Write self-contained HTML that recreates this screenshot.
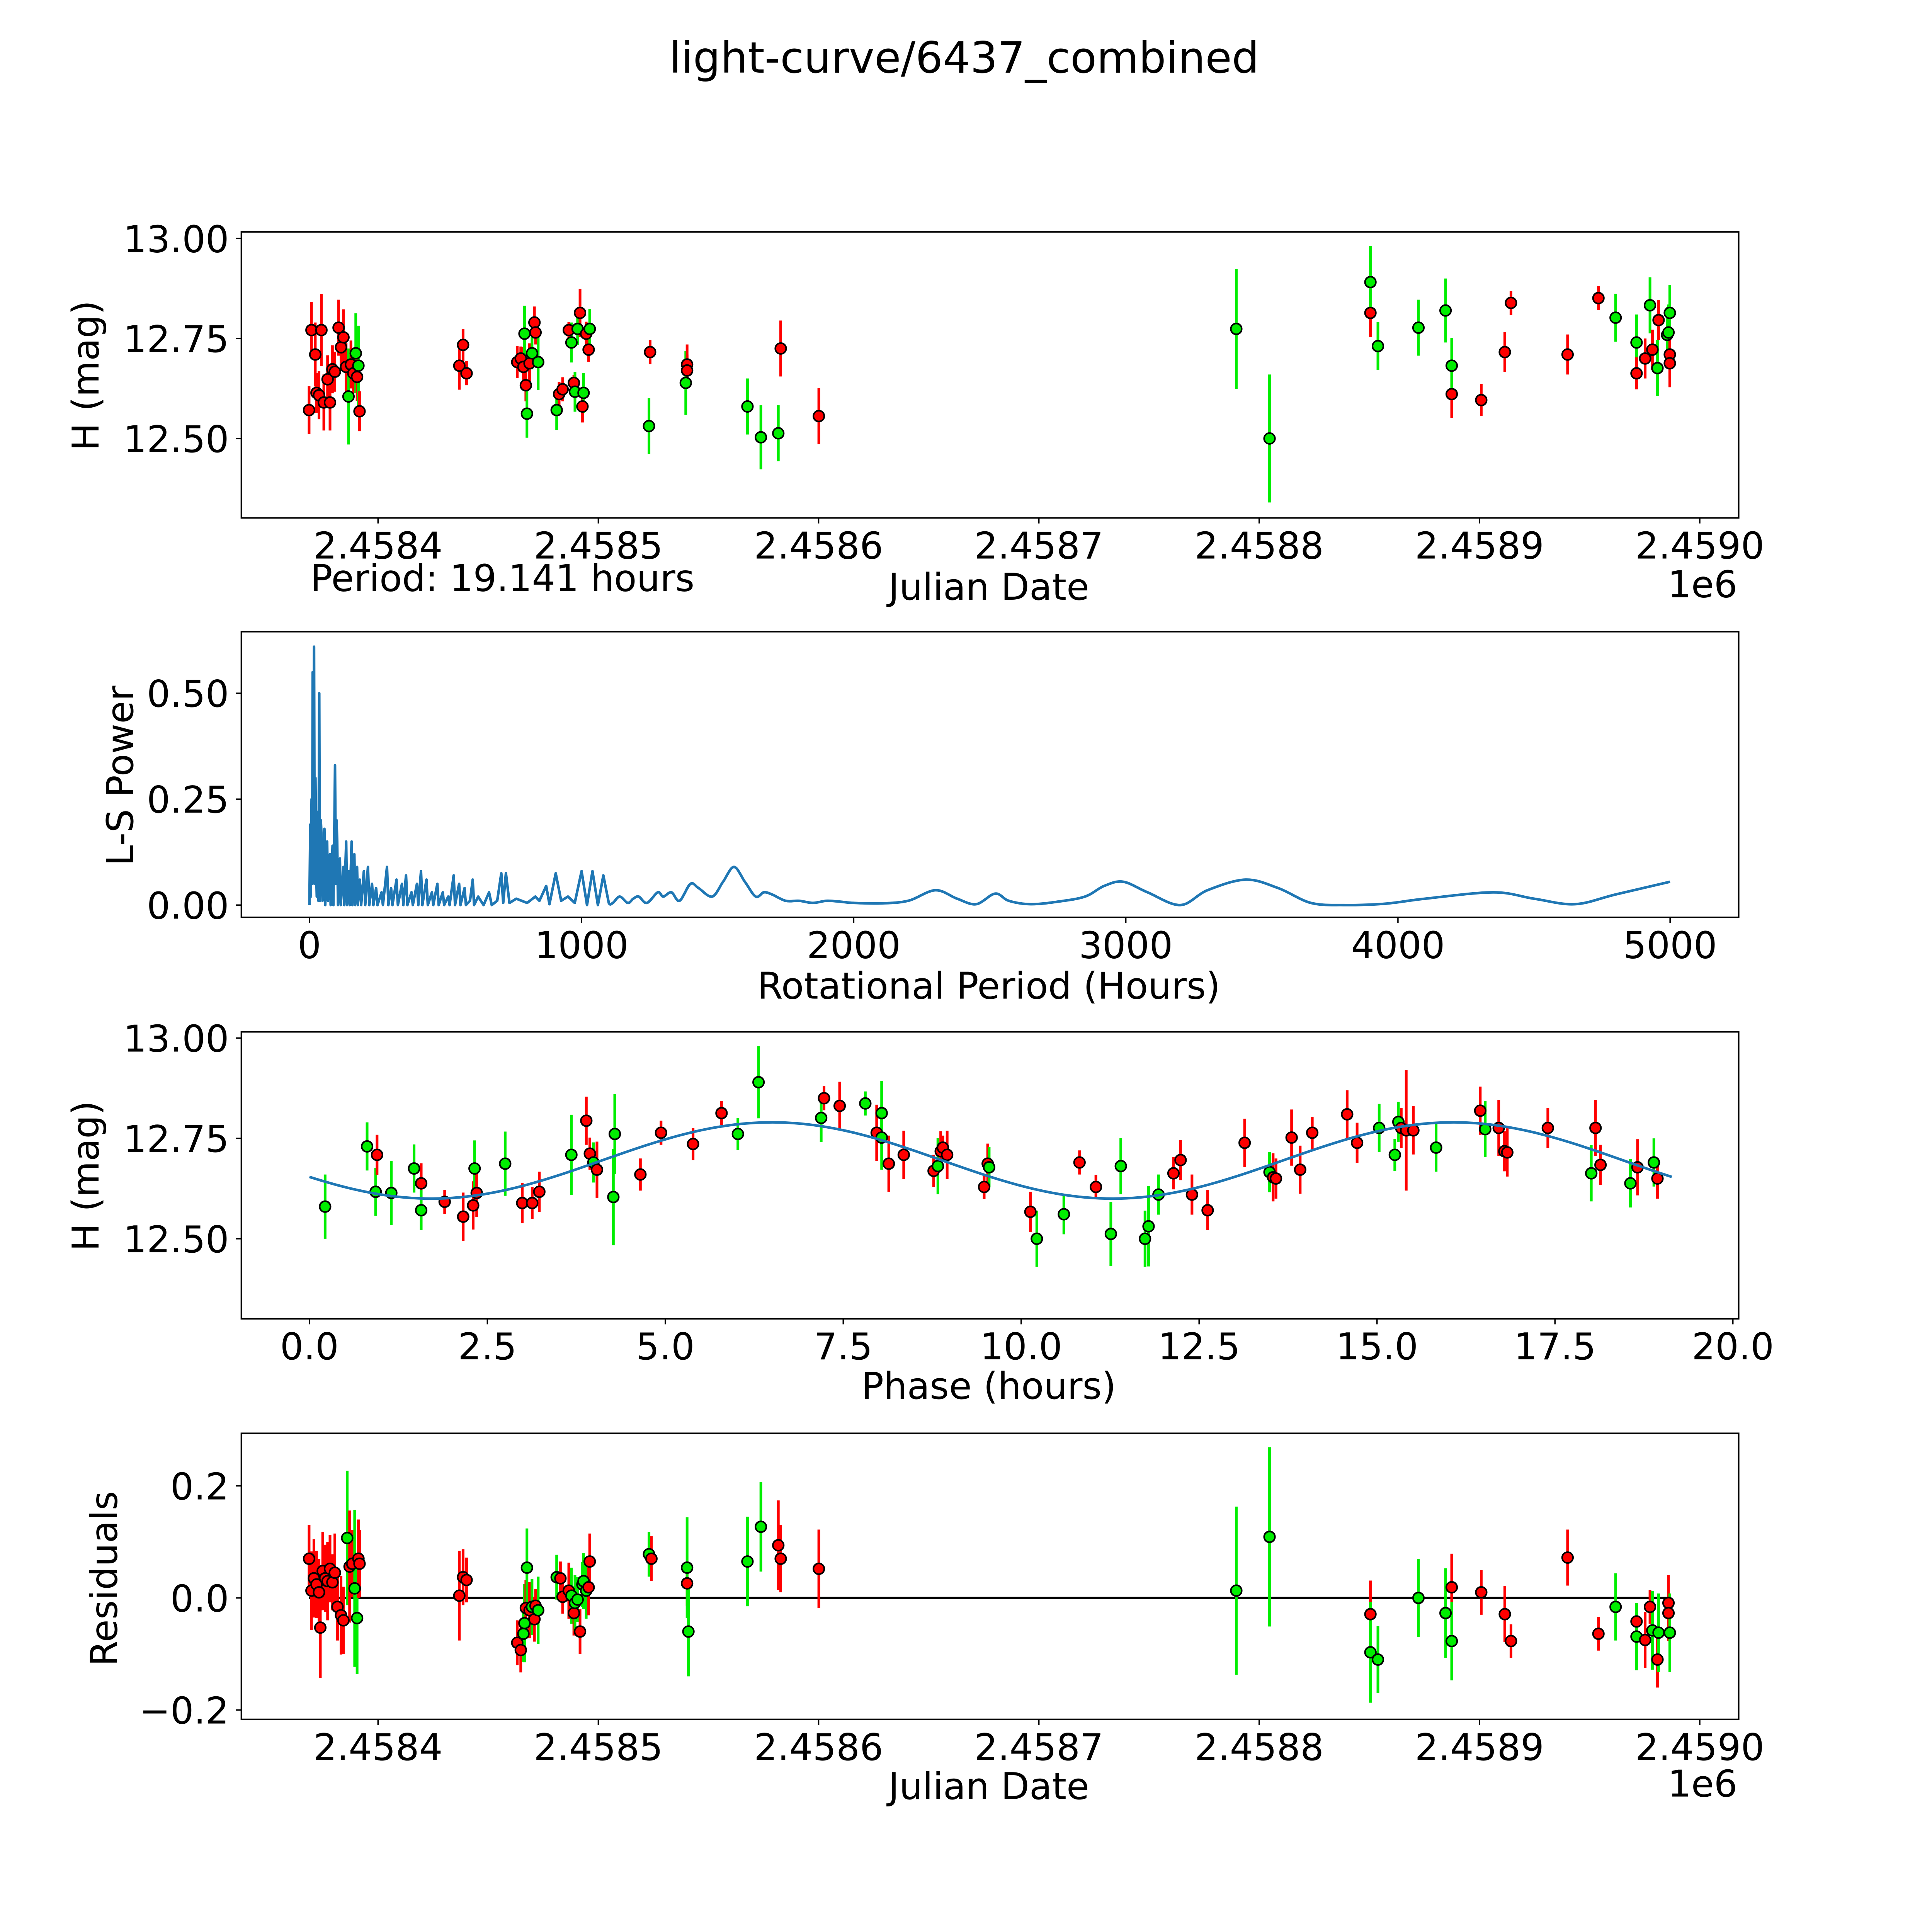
<!DOCTYPE html>
<html><head><meta charset="utf-8"><style>
html,body{margin:0;padding:0;background:#fff;overflow:hidden;width:100%;height:100%;}
svg{display:block;position:absolute;left:0;top:0;width:100vw;height:100vh;font-family:"DejaVu Sans","Liberation Sans",sans-serif;}
</style></head><body>
<svg id="fig" xmlns="http://www.w3.org/2000/svg" viewBox="0 0 1569 1569" preserveAspectRatio="none">
<rect x="0" y="0" width="1569" height="1569" fill="#fff"/>
<text x="783" y="59" font-size="35" text-anchor="middle">light-curve/6437_combined</text>
<text x="252" y="480" font-size="30">Period: 19.141 hours</text>
<g id="p1"></g>
<g id="p2"></g>
<g id="p3"></g>
<g id="p4"></g>
</svg>
<script>
// ---------- data (days = JD - 2458000) ----------
const lcDays = [368.7,369.8,371.5,372.1,373.2,374.3,375.4,377.1,378.2,379.3,380.4,382.1,383.2,384.3,385.5,386.6,387.7,388.8,389.9,390.5,391.1,391.6,
436.9,438.6,440.2,
463.2,464.8,466.0,466.5,467.1,467.6,468.8,469.9,471.0,471.5,472.7,
481.1,482.2,483.8,486.6,487.8,488.9,489.4,490.6,491.7,492.8,493.3,494.5,495.6,496.1,
523.0,523.5,539.7,540.3,540.3,567.7,573.8,581.7,582.8,600.1,
789.6,804.7,850.5,850.5,853.9,872.3,884.6,887.4,887.4,900.8,911.5,914.3,940.0,954.0,961.8,971.3,971.3,975.2,977.4,978.5,980.8,981.3,985.2,985.8,986.4,986.4,986.4];
const lcMags = [12.571,12.771,12.710,12.614,12.608,12.771,12.590,12.648,12.590,12.673,12.667,12.777,12.728,12.753,12.679,12.605,12.685,12.663,12.713,12.654,12.682,12.568,
12.682,12.734,12.663,
12.691,12.700,12.679,12.762,12.633,12.562,12.688,12.713,12.790,12.765,12.691,
12.571,12.611,12.623,12.771,12.740,12.639,12.617,12.774,12.814,12.580,12.614,12.762,12.722,12.774,
12.531,12.716,12.639,12.685,12.670,12.580,12.503,12.513,12.725,12.556,
12.774,12.500,12.814,12.891,12.731,12.777,12.820,12.611,12.682,12.596,12.716,12.839,12.710,12.851,12.802,12.740,12.663,12.700,12.833,12.722,12.676,12.796,12.759,12.765,12.814,12.710,12.688];
const lcErrs = [0.06,0.07,0.08,0.05,0.06,0.09,0.07,0.06,0.07,0.06,0.05,0.07,0.06,0.07,0.06,0.12,0.06,0.05,0.10,0.06,0.10,0.05,
0.06,0.04,0.03,
0.04,0.03,0.05,0.07,0.04,0.06,0.05,0.04,0.04,0.03,0.07,
0.05,0.03,0.03,0.02,0.05,0.02,0.05,0.04,0.06,0.04,0.05,0.03,0.03,0.05,
0.07,0.03,0.08,0.05,0.04,0.07,0.08,0.07,0.07,0.07,
0.15,0.16,0.06,0.09,0.06,0.07,0.08,0.06,0.07,0.04,0.05,0.03,0.05,0.03,0.06,0.07,0.04,0.05,0.07,0.05,0.07,0.05,0.07,0.07,0.07,0.06,0.06];
const lcBand = "rrrrrrrrrrrrrrrgrrgrgr"+"rrr"+"rrrgrgrgrrg"+"grrrgrggrrgrrg"+"grgrrgggrr"+"ggrggggrgrrrrrggrrgrgrgggrr";

const lsPeriods = [0,3,5,8,10,12,14,17,19,22,25,27,30,33,36,38,42,45,48,55,58,65,68,75,78,85,88,92,94,97,100,102,105,112,115,125,128,135,138,145,148,155,158,165,168,175,178,185,190,200,205,215,220,230,235,245,250,265,270,285,290,300,305,320,325,340,345,355,360,375,380,395,400,410,415,430,435,450,455,470,475,490,495,510,515,530,535,550,555,570,575,590,600,605,620,640,660,670,690,705,712,722,735,760,780,800,830,845,870,882,905,925,950,975,1000,1020,1040,1060,1080,1100,1115,1140,1170,1190,1210,1240,1280,1300,1330,1360,1400,1430,1480,1520,1560,1600,1640,1670,1700,1750,1800,1850,1900,1950,2000,2100,2200,2300,2380,2450,2520,2570,2650,2750,2850,2920,2990,3080,3200,3300,3440,3560,3680,3800,3950,4100,4350,4500,4650,4800,5000];
const lsPower = [0,0.19,0.02,0.25,0.05,0.55,0.1,0.61,0.05,0.3,0.08,0.02,0.22,0.01,0.5,0.01,0.2,0.15,0.01,0.18,0.0,0.15,0.01,0.12,0.0,0.14,0.0,0.2,0.33,0.05,0.2,0.15,0.0,0.11,0.0,0.09,0,0.15,0,0.08,0,0.15,0,0.12,0,0.09,0,0.06,0,0.08,0,0.09,0,0.05,0,0.04,0,0.03,0,0.09,0,0.04,0,0.06,0,0.05,0,0.07,0,0.03,0,0.05,0,0.08,0,0.06,0,0.03,0,0.05,0,0.03,0,0.02,0,0.07,0,0.05,0,0.04,0,0.01,0.06,0,0.02,0.0,0.03,0.0,0.01,0.075,0.005,0.075,0.005,0.015,0.01,0.005,0.02,0.01,0.045,0.002,0.075,0.01,0.02,0.005,0.08,0.0,0.08,0.0,0.07,0.005,0.005,0.02,0.005,0.015,0.02,0.005,0.03,0.02,0.03,0.01,0.05,0.04,0.02,0.055,0.09,0.055,0.02,0.03,0.025,0.01,0.01,0.005,0.01,0.008,0.005,0.004,0.01,0.035,0.015,0.002,0.027,0.01,0.002,0.008,0.02,0.045,0.055,0.03,0.0,0.035,0.06,0.04,0.005,0.0,0.003,0.015,0.03,0.015,0.002,0.025,0.055];

const phPhase = [0.22,0.81,0.93,0.95,1.15,1.47,1.57,1.57,1.90,2.16,2.30,2.32,2.35,2.75,2.99,3.13,3.23,3.68,3.89,3.94,3.99,4.04,4.27,4.29,4.65,4.94,5.39,5.79,6.02,6.31,7.19,7.23,7.45,7.81,7.97,8.04,8.04,8.14,8.35,8.77,8.83,8.87,8.90,8.96,9.48,9.53,9.55,10.13,10.22,10.60,10.82,11.05,11.26,11.40,11.74,11.79,11.93,12.14,12.24,12.40,12.62,13.14,13.49,13.54,13.58,13.80,13.92,14.09,14.58,14.72,15.03,15.25,15.30,15.34,15.41,15.51,15.83,16.45,16.52,16.71,16.79,16.83,17.40,18.01,18.07,18.14,18.56,18.66,18.89,18.94];
const phMags = [12.580,12.730,12.617,12.709,12.614,12.675,12.638,12.571,12.592,12.555,12.583,12.675,12.614,12.687,12.589,12.589,12.617,12.709,12.794,12.712,12.690,12.672,12.604,12.761,12.660,12.764,12.736,12.813,12.761,12.890,12.801,12.850,12.831,12.837,12.764,12.813,12.752,12.687,12.709,12.669,12.681,12.718,12.727,12.709,12.629,12.687,12.678,12.567,12.500,12.561,12.690,12.629,12.512,12.681,12.500,12.531,12.610,12.663,12.696,12.610,12.571,12.739,12.666,12.653,12.650,12.752,12.672,12.764,12.810,12.739,12.776,12.709,12.791,12.776,12.770,12.770,12.727,12.819,12.773,12.776,12.718,12.715,12.776,12.663,12.776,12.684,12.638,12.678,12.690,12.650];
const phErrs = [0.08,0.06,0.06,0.05,0.08,0.06,0.05,0.05,0.03,0.06,0.06,0.07,0.06,0.08,0.05,0.04,0.05,0.1,0.06,0.04,0.05,0.07,0.12,0.1,0.04,0.03,0.04,0.03,0.04,0.09,0.06,0.03,0.06,0.03,0.07,0.08,0.08,0.07,0.06,0.04,0.07,0.05,0.03,0.06,0.03,0.05,0.05,0.05,0.07,0.05,0.03,0.03,0.08,0.07,0.07,0.1,0.05,0.04,0.05,0.05,0.05,0.06,0.05,0.06,0.05,0.07,0.06,0.04,0.06,0.05,0.06,0.04,0.05,0.05,0.15,0.06,0.06,0.06,0.07,0.07,0.05,0.06,0.05,0.07,0.07,0.05,0.06,0.07,0.06,0.05];
const phBand = "gggrggrgrrrgrgrrrgrrgrggrrrrgggrrgrggrrrgrrrrrgrggrrgggggrrrrrgrrrrrrrgggrrrgrgrrrrgrrgrgr";
const fitPeriod = 19.141, fitMean = 12.695, fitAmp = 0.095, fitPeak = 6.5;

const resDays = [368.7,369.8,370.9,372.1,373.2,373.8,374.9,376.0,377.1,378.2,379.3,380.4,381.6,383.2,384.3,386.0,387.1,388.3,389.4,390.5,391.1,391.6,
436.9,438.6,440.2,
463.2,464.8,466.0,466.5,467.1,467.6,468.8,469.9,471.0,471.5,472.7,
481.1,482.8,483.8,486.6,487.8,488.9,489.4,490.6,491.7,492.8,493.3,494.5,495.6,496.1,
523.0,524.1,540.3,540.3,540.9,567.7,573.8,581.7,582.8,600.1,
789.6,804.7,850.5,850.5,853.9,872.3,884.6,887.4,887.4,900.8,911.5,914.3,940.0,954.0,961.8,971.3,971.3,975.2,977.4,978.5,980.8,981.3,985.8,985.8,986.4];
const resVals = [0.070,0.013,0.035,0.024,0.010,-0.053,0.048,0.035,0.030,0.052,0.028,0.045,-0.016,-0.031,-0.040,0.107,0.056,0.061,0.017,-0.036,0.070,0.061,
0.004,0.037,0.032,
-0.080,-0.093,-0.064,-0.045,-0.018,0.054,-0.022,-0.016,-0.038,-0.014,-0.022,
0.037,0.035,0.002,0.013,0.004,-0.027,-0.009,-0.003,-0.060,0.024,0.030,0.013,0.019,0.065,
0.078,0.070,0.026,0.054,-0.060,0.065,0.127,0.094,0.070,0.052,
0.013,0.109,-0.029,-0.097,-0.110,0.000,-0.027,0.019,-0.077,0.010,-0.029,-0.077,0.072,-0.064,-0.016,-0.042,-0.069,-0.075,-0.016,-0.058,-0.110,-0.062,-0.009,-0.027,-0.062];
const resErrs = [0.06,0.07,0.07,0.06,0.06,0.09,0.07,0.06,0.07,0.06,0.05,0.07,0.06,0.07,0.06,0.12,0.1,0.06,0.14,0.1,0.07,0.06,
0.08,0.05,0.04,
0.04,0.04,0.05,0.07,0.05,0.07,0.05,0.05,0.04,0.03,0.06,
0.04,0.03,0.03,0.05,0.05,0.04,0.05,0.04,0.04,0.04,0.05,0.05,0.05,0.05,
0.04,0.04,0.04,0.09,0.08,0.08,0.08,0.08,0.06,0.07,
0.15,0.16,0.06,0.09,0.06,0.07,0.08,0.06,0.07,0.04,0.05,0.03,0.05,0.03,0.06,0.03,0.06,0.05,0.03,0.07,0.05,0.07,0.05,0.05,0.07];
const resBand = "rrrrrrrrrrrrrrrgrrggrr"+"rrr"+"rrggrgrgrrg"+"grrrgrggrgggrr"+"grrggggrrr"+"ggrggggrgrrrrrgrgrrgrgrrg";

const jdTicks = [400,500,600,700,800,900,1000];
const jdTickLabels = ["2.4584","2.4585","2.4586","2.4587","2.4588","2.4589","2.4590"];
const magTicks = [12.5,12.75,13.0];
const magTickLabels = ["12.50","12.75","13.00"];
const lsXTicks = [0,1000,2000,3000,4000,5000];
const lsYTicks = [0,0.25,0.5];
const lsYTickLabels = ["0.00","0.25","0.50"];
const phTicks = [0,2.5,5,7.5,10,12.5,15,17.5,20];
const phTickLabels = ["0.0","2.5","5.0","7.5","10.0","12.5","15.0","17.5","20.0"];
const resTicks = [-0.2,0,0.2];
const resTickLabels = ["\u22120.2","0.0","0.2"];

// ---------- drawing ----------
const NS = "http://www.w3.org/2000/svg";
function mk(parent, tag, attrs){ const e=document.createElementNS(NS,tag); for(const k in attrs) e.setAttribute(k,attrs[k]); parent.appendChild(e); return e; }
const COL = {r:"#ff0000", g:"#00ee00"};
const L=196, R=1412;

const xJD = d => 307 + (d-400)*1.789;
const yMag1 = m => 193.7 + (13-m)*324.8;
const xLS = p => 251.3 + p*0.2210;
const yLS = v => 735 - v*344;
const xPh = p => 251.3 + p*57.8;
const yMag3 = m => 843 + (13-m)*326;
const yRes = r => 1297.7 - r*455;

function frame(g, top, bot, xt, xl, xf, yt, yl, yf, name){
  const f = mk(g,'rect',{x:L,y:top,width:R-L,height:bot-top,fill:'none',stroke:'#000','stroke-width':1.2});
  
  
  xt.forEach((v,i)=>{
    const x=xf(v);
    const t=mk(g,'line',{x1:x,x2:x,y1:bot,y2:bot+4.5,stroke:'#000','stroke-width':1.1});
    
    
    const tx=mk(g,'text',{x:x,y:bot+33,'font-size':30,'text-anchor':'middle'});
    tx.textContent=xl[i];
    
    
  });
  yt.forEach((v,i)=>{
    const y=yf(v);
    const t=mk(g,'line',{x1:L-4.5,x2:L,y1:y,y2:y,stroke:'#000','stroke-width':1.1});
    
    
    const tx=mk(g,'text',{x:L-10,y:y+11,'font-size':30,'text-anchor':'end'});
    tx.textContent=yl[i];
    
    
  });
}
function label(g,x,y,txt,rot,name){
  const a={x:x,y:y,'font-size':30,'text-anchor':'middle'};
  if(rot) a.transform='rotate(-90 '+x+' '+y+')';
  const t=mk(g,'text',a); t.textContent=txt;
  
  
}
function errPoints(g, xs, ys, es, bands, xf, yf, name){
  const eg=mk(g,'g',{}); const pg=mk(g,'g',{});
  for(let i=0;i<xs.length;i++){
    const c=COL[bands[i]]||COL.r;
    const x=xf(xs[i]);
    const b=mk(eg,'line',{x1:x,x2:x,y1:yf(ys[i]-es[i]),y2:yf(ys[i]+es[i]),stroke:c,'stroke-width':2.2});
    
    
  }
  for(let i=0;i<xs.length;i++){
    const c=COL[bands[i]]||COL.r;
    const p=mk(pg,'circle',{cx:xf(xs[i]),cy:yf(ys[i]),r:4.4,fill:c,stroke:'#000','stroke-width':1.3});
    
    
  }
}

// Panel 1
const g1=document.getElementById('p1');
frame(g1,188.3,420.6,jdTicks,jdTickLabels,xJD,magTicks,magTickLabels,yMag1,'light-curve');
errPoints(g1,lcDays,lcMags,lcErrs,lcBand,xJD,yMag1,'light-curve');
label(g1,803,487,'Julian Date',false,'light-curve-x-label');
label(g1,80,305,'H (mag)',true,'light-curve-y-label');
{const t=mk(g1,'text',{x:1411,y:485,'font-size':30,'text-anchor':'end'});t.textContent='1e6';

}

// Panel 2
const g2=document.getElementById('p2');
frame(g2,513,745,lsXTicks,lsXTicks.map(String),xLS,lsYTicks,lsYTickLabels,yLS,'periodogram');
{
  const px=lsPeriods.map(xLS), py=lsPower.map(yLS);
  let d='M'+px[0].toFixed(2)+' '+py[0].toFixed(2);
  for(let i=1;i<px.length;i++){
    if(lsPeriods[i]>=1100 && i>=2 && i<px.length-1 && lsPeriods[i-1]>=1100){
      const x0=px[i-2],y0=py[i-2],x1=px[i-1],y1=py[i-1],x2=px[i],y2=py[i],x3=px[i+1],y3=py[i+1];
      const c1x=x1+(x2-x0)/6, c1y=y1+(y2-y0)/6, c2x=x2-(x3-x1)/6, c2y=y2-(y3-y1)/6;
      d+='C'+c1x.toFixed(2)+' '+Math.min(c1y,735.5).toFixed(2)+' '+c2x.toFixed(2)+' '+Math.min(c2y,735.5).toFixed(2)+' '+x2.toFixed(2)+' '+y2.toFixed(2);
    } else {
      d+='L'+px[i].toFixed(2)+' '+py[i].toFixed(2);
    }
  }
  const p=mk(g2,'path',{d:d,fill:'none',stroke:'#1f77b4','stroke-width':2.1,'stroke-linejoin':'round'});
  
  
}
label(g2,803,811,'Rotational Period (Hours)',false,'periodogram-x-label');
label(g2,108,630,'L-S Power',true,'periodogram-y-label');

// Panel 3
const g3=document.getElementById('p3');
frame(g3,838,1071,phTicks,phTickLabels,xPh,magTicks,magTickLabels,yMag3,'phase');
errPoints(g3,phPhase,phMags,phErrs,phBand,xPh,yMag3,'phase');
{let d='';const n=200;for(let i=0;i<=n;i++){const ph=fitPeriod*i/n;const m=fitMean+fitAmp*Math.cos(4*Math.PI*(ph-fitPeak)/fitPeriod);d+=(i?'L':'M')+xPh(ph).toFixed(2)+' '+yMag3(m).toFixed(2);}
const p=mk(g3,'path',{d:d,fill:'none',stroke:'#1f77b4','stroke-width':2.1});

}
label(g3,803,1136,'Phase (hours)',false,'phase-x-label');
label(g3,80,955,'H (mag)',true,'phase-y-label');

// Panel 4
const g4=document.getElementById('p4');
frame(g4,1164,1396.3,jdTicks,jdTickLabels,xJD,resTicks,resTickLabels,yRes,'residuals');
{const z=mk(g4,'line',{x1:xJD(Math.min(...resDays)),x2:xJD(Math.max(...resDays)),y1:yRes(0),y2:yRes(0),stroke:'#000','stroke-width':1.8});

}
errPoints(g4,resDays,resVals,resErrs,resBand,xJD,yRes,'residuals');
label(g4,803,1461,'Julian Date',false,'residuals-x-label');
label(g4,95,1282,'Residuals',true,'residuals-y-label');
{const t=mk(g4,'text',{x:1411,y:1459,'font-size':30,'text-anchor':'end'});t.textContent='1e6';

}
</script>
</body></html>
